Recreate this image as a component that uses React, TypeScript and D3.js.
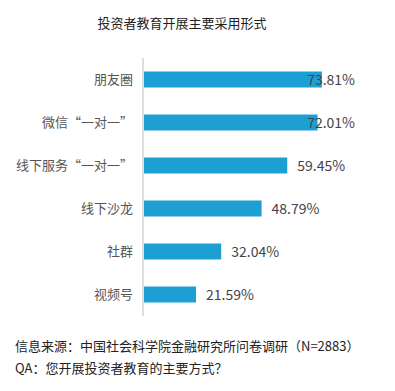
import { useEffect, useRef } from "react";
import * as d3 from "d3";

const categories = ["朋友圈", "微信“一对一”", "线下服务“一对一”", "线下沙龙", "社群", "视频号"];
const values = [73.81, 72.01, 59.45, 48.79, 32.04, 21.59];
const title = "投资者教育开展主要采用形式";
const notes = ["信息来源：中国社会科学院金融研究所问卷调研（N=2883）", "QA：您开展投资者教育的主要方式？"];

const W = 395;
const H = 391;
const FONT = "'Noto Sans CJK SC', 'Noto Sans', sans-serif";

export default function App() {
  const svgRef = useRef<SVGSVGElement | null>(null);

  useEffect(() => {
    if (!svgRef.current) return;
    const svg = d3.select(svgRef.current);
    svg.selectAll("*").remove();

    const axisX = 143;
    const x = d3.scaleLinear().domain([0, 100]).range([axisX + 1, axisX + 242]);
    const y = d3
      .scaleBand<string>()
      .domain(categories)
      .range([58, 316])
      .paddingInner(0.628)
      .paddingOuter(0.314);

    // title
    svg
      .append("text")
      .attr("x", 182)
      .attr("y", 28)
      .attr("text-anchor", "middle")
      .style("font-family", FONT)
      .style("font-size", "13px")
      .style("fill", "#222")
      .text(title);

    // bars
    svg
      .selectAll("rect.bar")
      .data(values)
      .join("rect")
      .attr("class", "bar")
      .attr("x", x(0))
      .attr("y", (_, i) => y(categories[i])!)
      .attr("width", (d) => x(d) - x(0))
      .attr("height", y.bandwidth())
      .attr("fill", "#1e9fd3");

    // axis line
    svg
      .append("line")
      .attr("x1", axisX)
      .attr("x2", axisX)
      .attr("y1", y.range()[0])
      .attr("y2", y.range()[1])
      .attr("stroke", "#d3d3d3")
      .attr("stroke-width", 1.5);

    // category labels
    svg
      .selectAll("text.cat")
      .data(categories)
      .join("text")
      .attr("class", "cat")
      .attr("x", axisX - 10)
      .attr("y", (d) => y(d)! + y.bandwidth() / 2)
      .attr("dy", "0.35em")
      .attr("text-anchor", "end")
      .style("font-family", FONT)
      .style("font-size", "13px")
      .style("fill", "#555")
      .text((d) => d);

    // value labels (pushed back inside when they would run off the right)
    const rightLimit = 355;
    svg
      .selectAll("text.val")
      .data(values)
      .join("text")
      .attr("class", "val")
      .attr("x", (d) => x(d) + 10)
      .attr("y", (_, i) => y(categories[i])! + y.bandwidth() / 2)
      .attr("dy", "0.36em")
      .style("font-family", FONT)
      .style("font-size", "14px")
      .style("fill", "#444")
      .text((d) => d.toFixed(2) + "%")
      .each(function () {
        const t = this as SVGTextElement;
        const bb = t.getBBox();
        if (bb.x + bb.width > rightLimit) {
          d3.select(t).attr("x", rightLimit).attr("text-anchor", "end");
        }
      });

    // footnotes
    svg
      .selectAll("text.note")
      .data(notes)
      .join("text")
      .attr("class", "note")
      .attr("x", 15)
      .attr("y", (_, i) => 346 + i * 22)
      .attr("dy", "0.35em")
      .style("font-family", FONT)
      .style("font-size", "13px")
      .style("fill", "#222")
      .text((d) => d);
  }, []);

  return (
    <svg
      ref={svgRef}
      width={W}
      height={H}
      style={{ position: "absolute", left: 0, top: 0, background: "#fff" }}
    />
  );
}
